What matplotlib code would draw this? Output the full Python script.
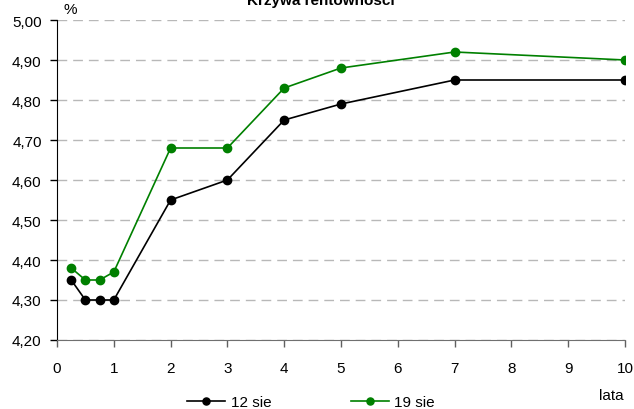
import matplotlib.pyplot as plt
import numpy as np

plt.rcParams['font.family'] = ['Liberation Sans', 'DejaVu Sans']

lata = [0.25, 0.5, 0.75, 1, 2, 3, 4, 5, 7, 10]
sie12 = [4.35, 4.30, 4.30, 4.30, 4.55, 4.60, 4.75, 4.79, 4.85, 4.85]
sie19 = [4.38, 4.35, 4.35, 4.37, 4.68, 4.68, 4.83, 4.88, 4.92, 4.90]
yticks = np.arange(4.2, 5.001, 0.1)

fig = plt.figure(figsize=(6.34, 4.10), dpi=100)
ax = fig.add_axes([57 / 634, 1 - 341 / 410, 568 / 634, 320 / 410])

ax.plot(lata, sie12, color='black', marker='o', markersize=6, linewidth=1.2, label='12 sie')
ax.plot(lata, sie19, color='#008000', marker='o', markersize=6, linewidth=1.2, label='19 sie')

ax.set_xlim(0, 10)
ax.set_ylim(4.2, 5.0)
ax.set_xticks(range(0, 11))
ax.set_yticks(yticks)
ax.set_yticklabels([f"{v:.2f}".replace('.', ',') for v in yticks])
ax.tick_params(labelsize=11, direction='out', length=5, width=1)
ax.tick_params(axis='x', pad=10, color='#606060')
ax.tick_params(axis='y', pad=6)
ax.grid(axis='y', color='#b8b8b8', linestyle=(0, (7, 4.3)), linewidth=1)
ax.set_axisbelow(True)
ax.spines['top'].set_visible(False)
ax.spines['right'].set_visible(False)
ax.spines['bottom'].set_color('#707070')

fig.text(321 / 634, 1 - 5 / 410, 'Krzywa rentowności', ha='center', va='baseline',
         fontsize=11, fontweight='bold')
fig.text(64 / 634, 1 - 14 / 410, '%', ha='left', va='baseline', fontsize=11)
fig.text(611 / 634, 1 - 400 / 410, 'lata', ha='center', va='baseline', fontsize=11)

leg = fig.legend(loc='center left', bbox_to_anchor=(187 / 634, 1 - 403 / 410), ncol=2,
                 frameon=False, fontsize=11, handlelength=2.5, columnspacing=5.2,
                 handletextpad=0.35, borderpad=0, borderaxespad=0, markerscale=0.85)

fig.savefig('out.png', dpi=100)
